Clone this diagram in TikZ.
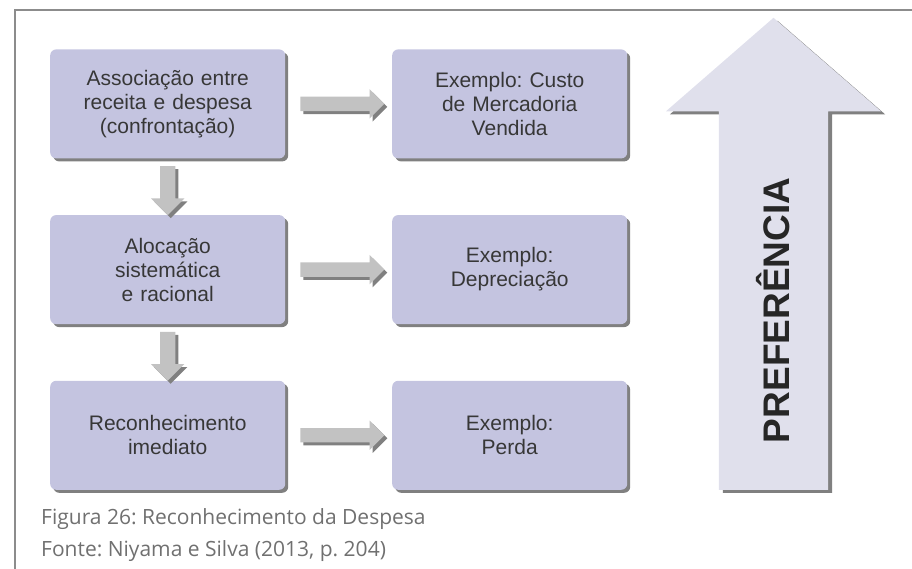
\documentclass[tikz,border=0pt]{standalone}
\usepackage{fontspec}
\setmainfont{Liberation Sans}
\newfontfamily\capfont{Open Sans}
\usetikzlibrary{positioning,calc,shapes.arrows,shadows}
\frenchspacing

\definecolor{boxfill}{RGB}{196,196,224}
\definecolor{boxtext}{RGB}{55,55,55}
\definecolor{shadowgray}{RGB}{128,128,128}
\definecolor{arrowfill}{RGB}{194,194,194}
\definecolor{preffill}{RGB}{224,224,236}
\definecolor{framegray}{RGB}{140,140,140}
\definecolor{captext}{RGB}{112,112,112}

\begin{document}
\begin{tikzpicture}[x=1pt,y=1pt,
  box/.style={rounded corners=6pt, fill=boxfill, minimum width=235pt,
    minimum height=109pt, text width=225pt, align=center, inner sep=0pt,
    text=boxtext, font=\fontsize{21}{24}\selectfont,
    drop shadow={shadow xshift=3pt, shadow yshift=-3pt, fill=shadowgray, opacity=1}},
  flow/.style={single arrow, fill=arrowfill,
    drop shadow={shadow xshift=3pt, shadow yshift=-3pt, fill=shadowgray, opacity=1}},
  harrow/.style={flow, inner sep=7pt, minimum height=84pt, single arrow head extend=7.5pt},
  varrow/.style={flow, shape border rotate=270, inner sep=7.5pt, minimum height=49pt,
    single arrow head extend=9pt},
  caption/.style={anchor=base west, inner sep=0pt, text=captext,
    font=\capfont\fontsize{21}{24}\selectfont}]
  \useasboundingbox (0,0) rectangle (912,569);
  \draw[framegray, line width=2.5pt] (15,0) -- (15,559) -- (912,559);

  \matrix (m) [anchor=north west, inner sep=0pt, column sep=107pt, row sep=56.5pt] at (50,520) {
    \node [box] (assoc) {Associação entre\\receita e despesa\\(confrontação)}; &
    \node [box] (exCMV) {Exemplo: Custo\\de Mercadoria\\Vendida}; \\
    \node [box] (alloc) {Alocação\\sistemática\\e racional}; &
    \node [box] (exDep) {Exemplo:\\Depreciação}; \\
    \node [box] (imed) {Reconhecimento\\imediato}; &
    \node [box] (exPerda) {Exemplo:\\Perda}; \\
  };

  \node [harrow] (toCMV) at ($(assoc.east)!.5!(exCMV.west)$) {};
  \node [harrow] (toDep) at ($(alloc.east)!.5!(exDep.west)$) {};
  \node [harrow] (toPerda) at ($(imed.east)!.5!(exPerda.west)$) {};
  \node [varrow] (down1) at ($(assoc.south)!.5!(alloc.north)$) {};
  \node [varrow] (down2) at ($(alloc.south)!.5!(imed.north)$) {};

  \node [single arrow, fill=preffill, inner sep=54.5pt, shape border rotate=90,
    minimum height=472pt, single arrow head extend=53pt, single arrow tip angle=98,
    drop shadow={shadow xshift=4pt, shadow yshift=-3pt, fill=shadowgray, opacity=1},
    anchor=tail] (pref) at (773.5,79) {};
  \node [rotate=90, font=\bfseries\fontsize{37}{40}\selectfont, text={black!85}]
    (prefText) at ($(pref.tail)!.38!(pref.tip)$) {PREFERÊNCIA};

  \node [caption] (figCap) at (41,44) {Figura 26: Reconhecimento da Despesa};
  \node [caption] (srcCap) at (41,12) {Fonte: Niyama e Silva (2013, p. 204)};
\end{tikzpicture}
\end{document}
